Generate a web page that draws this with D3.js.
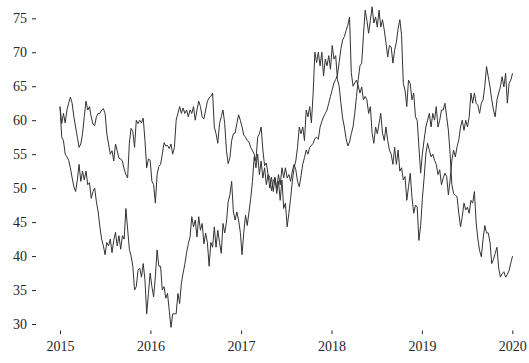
<!DOCTYPE html>
<html>
<head>
<meta charset="utf-8">
<script src="https://cdn.jsdelivr.net/npm/d3@7"></script>
<style>
  html, body { margin: 0; padding: 0; background: #fff; }
  svg { display: block; }
  .tick text { font-family: "Liberation Serif", "Times New Roman", serif; font-size: 14px; fill: #262626; }
  .tick line { stroke: #262626; stroke-width: 1; }
</style>
</head>
<body>
<div id="chart"></div>
<script>
// ---- data (weekly samples starting 2015-01-01) ----
const startDate = "2015-01-01";
const stepDays = 7;

const seriesA = [
  62, 57.5, 57, 55, 54.6, 54.1, 53, 51.5, 50.2, 49.5,
  51.2, 53.5, 51, 52.5, 51.2, 52.5, 50.5, 50.8, 48.5, 49.5,
  50, 48, 46.5, 44.3, 42.5, 41.5, 40.2, 42, 41.5, 42.5,
  40.5, 42.3, 43.5, 41.5, 43, 41, 43, 42.5, 47, 44,
  41, 40, 38.5, 35, 35.5, 37.9, 38.2, 36.9, 38.9, 36.5,
  31.5, 34.5, 37.5, 35.5, 34, 37, 40.9, 38.5, 38.5, 35,
  35.5, 33.8, 34.5, 32, 29.5, 31.5, 31.5, 31.5, 34.5, 33,
  36, 37.5, 38.8, 40.5, 41.8, 42.8, 45.8, 44.3, 45.3, 42.8,
  45.8, 43.8, 44.8, 41.8, 43.4, 42, 38.5, 42, 41.3, 44.3,
  41.3, 43.8, 42, 40.4, 44.8, 43.4, 45, 48, 49, 51,
  46.5, 45.3, 46.5, 45.3, 43.5, 40.2, 43.5, 46, 44.5, 46.5,
  48.5, 51, 54.6, 53, 55, 52, 54, 51.5, 53, 50.5,
  52, 50, 51.6, 49.5, 51.5, 50, 52, 50.5, 53, 51.5,
  53, 51.5, 52, 51, 52.5, 53.5, 52.7, 51, 50.2, 51.8,
  53.5, 54.5, 55.6, 55, 56, 56.3, 56.6, 57.3, 57.5, 57.2,
  59, 59.8, 60.5, 61, 61.5, 62.5, 63.5, 64.5, 65.5, 66,
  66.6, 68.5, 70.5, 71.8, 72.3, 73.2, 74, 75.2, 67, 65,
  65.5, 65.9, 65, 64, 64.9, 63, 63.5, 63, 61, 62,
  58.1, 56.6, 59, 58, 59.5, 61, 58.1, 57, 59, 57,
  55.6, 55, 53.5, 56, 53.5, 55.6, 52.5, 53, 51.2, 51.7,
  48.2, 50.2, 52.2, 48.7, 46.3, 47.5, 47.2, 42.3, 44.5, 48.5,
  51.5, 55, 56.6, 55.6, 54.6, 55, 54.1, 53.5, 52, 52.7,
  50.5, 51.5, 52.2, 51.7, 49, 51.2, 54.1, 55.6, 54.6, 56.1,
  57.1, 59, 60, 58.5, 60, 59, 60.5, 64, 62.5, 64,
  62.5, 62.2, 61, 62.5, 63, 65, 67.9, 66.4, 64.9, 63,
  61.5, 60.5, 63, 64, 64.9, 66.4, 64.9, 66.9, 62.5, 65.4,
  65.9, 66.9
];

const seriesB = [
  62, 59.5, 61, 59.6, 61.5, 62.5, 63.4, 62.5, 60.5, 59,
  57.5, 56, 56.5, 58, 60.5, 62.8, 61.5, 62, 60.5, 59.4,
  59.2, 60.5, 61, 61, 61.5, 61.7, 61, 58, 56.5, 55,
  55.5, 54, 56.5, 55.5, 54.4, 54.3, 54, 52.8, 52, 51.5,
  56.6, 58.8, 58.3, 56, 60, 59.5, 60, 59.6, 60.3, 57,
  53, 54.3, 54.1, 51, 50.5, 47.8, 52, 53.2, 53.5, 55,
  56.7, 56.2, 56.3, 55.8, 56.5, 55, 56, 60, 61, 62,
  61, 61.8, 61, 61.5, 60.5, 61.5, 61, 62, 60, 61.5,
  62.8, 62, 60.5, 60.2, 61.5, 62.8, 63.3, 63.5, 64, 59,
  58, 56.6, 59.5, 60.5, 61.5, 59.5, 55.5, 53.6, 54.5, 57,
  58, 58.1, 59.5, 60.8, 60, 59, 57.8, 57.5, 57, 56.8,
  56, 55.5, 55, 54, 57.5, 58, 59, 55.6, 53.3, 53.7,
  52, 51.6, 49.6, 51, 51.6, 49.2, 51, 48.2, 51.2, 47,
  47.8, 44.3, 46.3, 48.5, 51, 53, 54, 56, 59, 58,
  59, 57, 61.5, 60.5, 62, 59.6, 64, 70, 68.5, 70,
  68, 70, 66.5, 69, 68, 69.5, 67.5, 71, 69, 69.5,
  66, 65, 62.5, 60.3, 59, 57.3, 56.2, 56.8, 58, 59,
  61, 63.5, 66, 68, 68.4, 72.5, 76.2, 74.7, 72.8, 74.7,
  76.7, 74.3, 75.2, 73.7, 76.2, 73.7, 74.8, 73.3, 71.4, 69.3,
  71, 70.8, 68.4, 70.3, 71.5, 73.5, 74.8, 72.5, 65.4, 64.4,
  62, 65.9, 65.4, 63, 64, 60.5, 60, 56.1, 52.2, 55.1,
  57.1, 59, 60, 61, 59, 61, 60, 62, 59, 60,
  61.5, 61.5, 62.5, 60.5, 58.5, 55, 50.5, 49.2, 49, 48.7,
  46.3, 44.3, 45.8, 47.8, 46.8, 47.2, 46.3, 48.2, 47.8, 49.5,
  45, 42.5, 40.8, 39.9, 42.5, 44.5, 43.4, 43.4, 42, 38.9,
  39.5, 40.4, 41.3, 38.2, 36.9, 37.4, 37.7, 36.9, 37.3, 37.9,
  39, 40
];

const yTickValues = [30, 35, 40, 45, 50, 55, 60, 65, 70, 75];
const xTickLabels = ["2015", "2016", "2017", "2018", "2019", "2020"];

// ---- chart ----
const W = 529, H = 363;
const svg = d3.select("#chart").append("svg").attr("width", W).attr("height", H);

const parse = d3.timeParse("%Y-%m-%d");
const t0 = parse(startDate);
const toRows = vals => vals.map((v, i) => ({ date: d3.timeDay.offset(t0, i * stepDays), value: v }));
const rowsA = toRows(seriesA);
const rowsB = toRows(seriesB);

const xTicks = xTickLabels.map(s => parse(s + "-01-01"));
const x = d3.scaleTime().domain([xTicks[0], xTicks[xTicks.length - 1]]).range([60, 512.3]);
const y = d3.scaleLinear().domain([30, 75]).range([324, 18.3]);

const line = d3.line().x(d => x(d.date)).y(d => y(d.value));

[rowsA, rowsB].forEach(rows => {
  svg.append("path")
    .datum(rows)
    .attr("fill", "none")
    .attr("stroke", "#333")
    .attr("stroke-width", 1)
    .attr("stroke-linejoin", "round")
    .attr("d", line);
});

const yAxis = svg.append("g")
  .attr("transform", "translate(36,0)")
  .call(d3.axisLeft(y).tickValues(yTickValues).tickSize(4).tickPadding(5).tickFormat(d3.format("d")));
yAxis.select(".domain").remove();

const xAxis = svg.append("g")
  .attr("transform", "translate(0,330.5)")
  .call(d3.axisBottom(x).tickValues(xTicks).tickSize(3.5).tickPadding(7).tickFormat(d3.timeFormat("%Y")));
xAxis.select(".domain").remove();
</script>
</body>
</html>
